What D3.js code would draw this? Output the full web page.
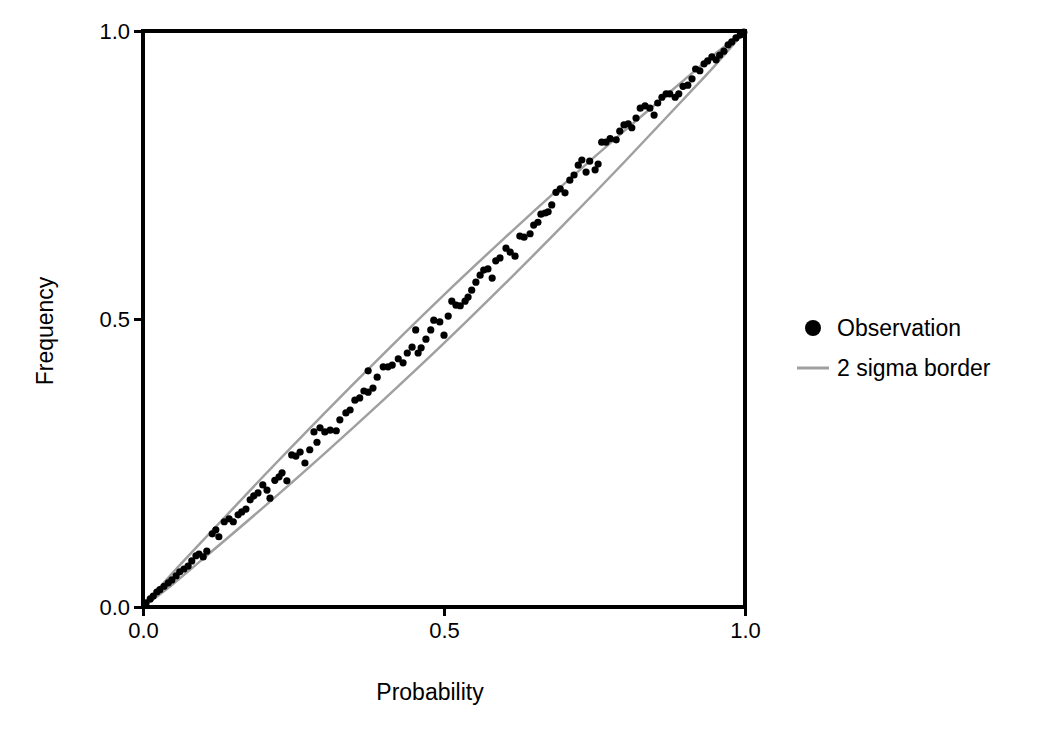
<!DOCTYPE html>
<html><head><meta charset="utf-8">
<script src="https://cdn.jsdelivr.net/npm/d3@7"></script>
<style>body{margin:0;background:#fff}text{font-family:Arial,"Liberation Sans",sans-serif}</style>
</head><body><svg id="c" width="1051" height="736"></svg>
<script>
const probability=[.005,.012,.017,.023,.028,.035,.042,.048,.055,.061,.068,.075,.081,.088,.093,.100,.106,.115,.121,.126,.135,.143,.150,.158,.164,.171,.178,.184,.191,.199,.206,.211,.219,.226,.231,.239,.247,.254,.261,.269,.277,.284,.289,.294,.302,.311,.321,.327,.337,.344,.352,.360,.367,.374,.374,.382,.389,.399,.407,.414,.424,.432,.439,.447,.453,.457,.462,.470,.478,.483,.493,.500,.507,.513,.520,.527,.535,.540,.546,.553,.560,.566,.573,.580,.586,.593,.603,.610,.618,.626,.633,.643,.649,.656,.661,.668,.673,.679,.686,.693,.701,.709,.716,.723,.729,.736,.742,.751,.756,.762,.769,.776,.786,.792,.799,.806,.812,.819,.826,.834,.842,.849,.855,.862,.869,.875,.884,.890,.897,.905,.912,.918,.925,.932,.938,.945,.952,.958,.965,.972,.978,.985,.992,.998];
const frequency=[.007,.014,.019,.026,.030,.036,.042,.047,.054,.061,.066,.071,.080,.089,.092,.087,.097,.127,.134,.122,.148,.153,.148,.160,.165,.170,.186,.193,.198,.212,.203,.189,.220,.226,.233,.219,.264,.262,.269,.250,.273,.304,.286,.311,.304,.307,.306,.325,.337,.342,.359,.363,.375,.373,.410,.380,.399,.417,.417,.420,.431,.424,.441,.451,.481,.441,.450,.465,.481,.498,.495,.472,.505,.531,.524,.523,.531,.538,.550,.564,.576,.585,.587,.571,.601,.606,.623,.616,.609,.644,.642,.648,.663,.668,.682,.684,.686,.698,.720,.726,.719,.741,.750,.767,.776,.755,.774,.759,.769,.807,.807,.813,.811,.826,.837,.839,.832,.849,.866,.870,.866,.854,.875,.885,.891,.891,.885,.891,.904,.906,.917,.934,.931,.943,.948,.955,.950,.958,.965,.976,.981,.988,.993,.998];
const bandP=[0,.05,.1,.2,.3,.4,.5,.6,.7,.8,.9,.95,1];
const bandHalf=[0,.010,.016,.027,.035,.040,.042,.040,.035,.027,.016,.010,0];
const ticks=[0,0.5,1];
const svg=d3.select("#c");
const x=d3.scaleLinear([0,1],[143,745]), y=d3.scaleLinear([0,1],[607,31]);
const gray="#a0a0a0";
const band=bandP.map((p,i)=>({p,h:bandHalf[i]}));
const ln=s=>d3.line().x(d=>x(d.p)).y(d=>y(d.p+s*d.h)).curve(d3.curveMonotoneX);
svg.append("path").attr("d",ln(1)(band)).attr("fill","none").attr("stroke",gray).attr("stroke-width",2.5);
svg.append("path").attr("d",ln(-1)(band)).attr("fill","none").attr("stroke",gray).attr("stroke-width",2.5);
svg.append("g").selectAll("circle").data(probability.map((p,i)=>[p,frequency[i]])).join("circle")
 .attr("cx",d=>x(d[0])).attr("cy",d=>y(d[1])).attr("r",3.6).attr("fill","#000");
svg.append("rect").attr("x",143).attr("y",31).attr("width",602).attr("height",576).attr("fill","none").attr("stroke","#000").attr("stroke-width",4);
const fmt=d3.format(".1f");
const ax=svg.append("g").attr("transform","translate(0,607)").call(d3.axisBottom(x).tickValues(ticks).tickFormat(fmt).tickSize(9).tickPadding(6));
const ay=svg.append("g").attr("transform","translate(143,0)").call(d3.axisLeft(y).tickValues(ticks).tickFormat(fmt).tickSize(9).tickPadding(4));
[ax,ay].forEach(a=>{a.attr("font-size",null).attr("font-family",null);a.select(".domain").remove();a.selectAll("line").attr("stroke-width",3);a.selectAll("text").style("font-size","22px").attr("fill","#000");});
svg.append("text").attr("x",430).attr("y",700).attr("text-anchor","middle").style("font-size","23px").text("Probability");
svg.append("text").attr("transform","translate(53,331) rotate(-90)").attr("text-anchor","middle").style("font-size","23px").text("Frequency");
svg.append("circle").attr("cx",813).attr("cy",328).attr("r",8).attr("fill","#000");
svg.append("text").attr("x",837).attr("y",336).style("font-size","23px").text("Observation");
svg.append("line").attr("x1",797).attr("x2",829).attr("y1",368).attr("y2",368).attr("stroke",gray).attr("stroke-width",3);
svg.append("text").attr("x",837).attr("y",376).style("font-size","23px").text("2 sigma border");
</script></body></html>
